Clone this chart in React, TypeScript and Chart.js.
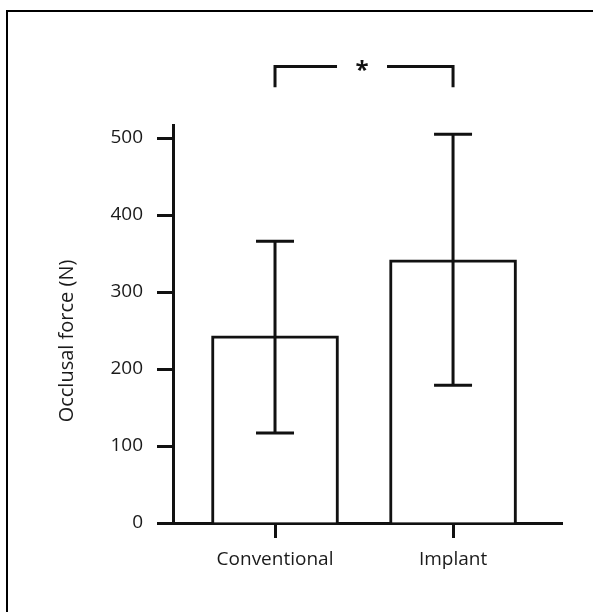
import React, { useEffect, useRef } from "react";
import { Chart, registerables } from "chart.js";

Chart.register(...registerables);

const categories = ["Conventional", "Implant"];
const means = [243, 342];
const errLow = [117, 179];
const errHigh = [366, 505];
const yTicksStep = 100;
const yMax = 517;
const bracketTop = 593;
const bracketBottom = 566;
const significance = "*";
const yTitle = "Occlusal force (N)";

const FONT = "'Open Sans', 'Liberation Sans', sans-serif";
const INK = "#111";

const framePlugin = {
  id: "frame",
  beforeDraw(chart: any) {
    const ctx = chart.ctx;
    ctx.save();
    ctx.strokeStyle = "#000";
    ctx.lineWidth = 2;
    ctx.beginPath();
    ctx.moveTo(7, chart.height);
    ctx.lineTo(7, 11);
    ctx.lineTo(chart.width, 11);
    ctx.stroke();
    ctx.restore();
  },
};

const errorBarPlugin = {
  id: "errorBars",
  afterDatasetsDraw(chart: any) {
    const ctx = chart.ctx;
    const y = chart.scales.y;
    const meta = chart.getDatasetMeta(0);
    ctx.save();
    ctx.strokeStyle = INK;
    ctx.lineWidth = 3;
    ctx.lineCap = "butt";
    meta.data.forEach((bar: any, i: number) => {
      const x = bar.x;
      const yh = y.getPixelForValue(errHigh[i]);
      const yl = y.getPixelForValue(errLow[i]);
      const cap = 19;
      ctx.beginPath();
      ctx.moveTo(x, yh);
      ctx.lineTo(x, yl);
      ctx.moveTo(x - cap, yh);
      ctx.lineTo(x + cap, yh);
      ctx.moveTo(x - cap, yl);
      ctx.lineTo(x + cap, yl);
      ctx.stroke();
    });
    // significance bracket
    const xs = chart.scales.x;
    const x0 = xs.getPixelForValue(0);
    const x1 = xs.getPixelForValue(1);
    const yt = y.getPixelForValue(bracketTop);
    const yb = y.getPixelForValue(bracketBottom);
    const mid = (x0 + x1) / 2 - 2;
    ctx.beginPath();
    ctx.moveTo(x0, yb);
    ctx.lineTo(x0, yt);
    ctx.lineTo(mid - 25, yt);
    ctx.moveTo(mid + 25, yt);
    ctx.lineTo(x1, yt);
    ctx.lineTo(x1, yb);
    ctx.stroke();
    ctx.fillStyle = INK;
    ctx.font = `bold 24px ${FONT}`;
    ctx.textAlign = "center";
    ctx.textBaseline = "middle";
    ctx.fillText(significance, mid, yt + 5);
    // y axis title
    const cy = (chart.chartArea.top + chart.chartArea.bottom) / 2 + 17;
    ctx.translate(67, cy);
    ctx.rotate(-Math.PI / 2);
    ctx.font = `20px ${FONT}`;
    ctx.fillStyle = "#1a1a1a";
    ctx.fillText(yTitle, 0, 0);
    ctx.restore();
  },
};

export default function App() {
  const ref = useRef<HTMLCanvasElement>(null);
  useEffect(() => {
    if (!ref.current) return;
    const chart = new Chart(ref.current, {
      type: "bar",
      data: {
        datasets: [
          {
            data: means.map((v, i) => ({ x: i, y: v })),
            backgroundColor: "#fff",
            borderColor: INK,
            borderWidth: 3,
            barThickness: 127,
          },
        ],
      },
      options: {
        animation: false,
        responsive: false,
        devicePixelRatio: 1,
        layout: { padding: { left: 0, right: 31, top: 125, bottom: 0 } },
        plugins: { legend: { display: false }, tooltip: { enabled: false } },
        scales: {
          x: {
            type: "linear",
            min: -0.573,
            max: 1.612,
            offset: false,
            afterFit: (s: any) => {
              s.height = 89;
            },
            afterBuildTicks: (s: any) => {
              s.ticks = categories.map((_, i) => ({ value: i }));
            },
            ticks: {
              callback: (v: any) => categories[v as number] ?? "",
              font: { family: FONT, size: 19 },
              color: "#1a1a1a",
              padding: 10,
              maxRotation: 0,
              autoSkip: false,
            },
            grid: {
              offset: false,
              drawOnChartArea: false,
              drawTicks: true,
              tickLength: 15,
              tickWidth: 3,
              tickColor: INK,
            },
            border: { display: true, color: INK, width: 3 },
          },
          y: {
            min: 0,
            max: yMax,
            afterFit: (s: any) => {
              s.width = 173;
            },
            ticks: {
              stepSize: yTicksStep,
              includeBounds: false,
              font: { family: FONT, size: 19 },
              color: "#1a1a1a",
              padding: 14,
            },
            grid: {
              drawOnChartArea: false,
              drawTicks: true,
              tickLength: 16,
              tickWidth: 3,
              tickColor: INK,
            },
            border: { display: true, color: INK, width: 3 },
          },
        },
      },
      plugins: [framePlugin, errorBarPlugin],
    } as any);
    return () => chart.destroy();
  }, []);
  return (
    <div style={{ position: "absolute", left: 0, top: 0, width: 593, height: 612, background: "#fff" }}>
      <canvas ref={ref} width={593} height={612} style={{ display: "block" }} />
    </div>
  );
}
